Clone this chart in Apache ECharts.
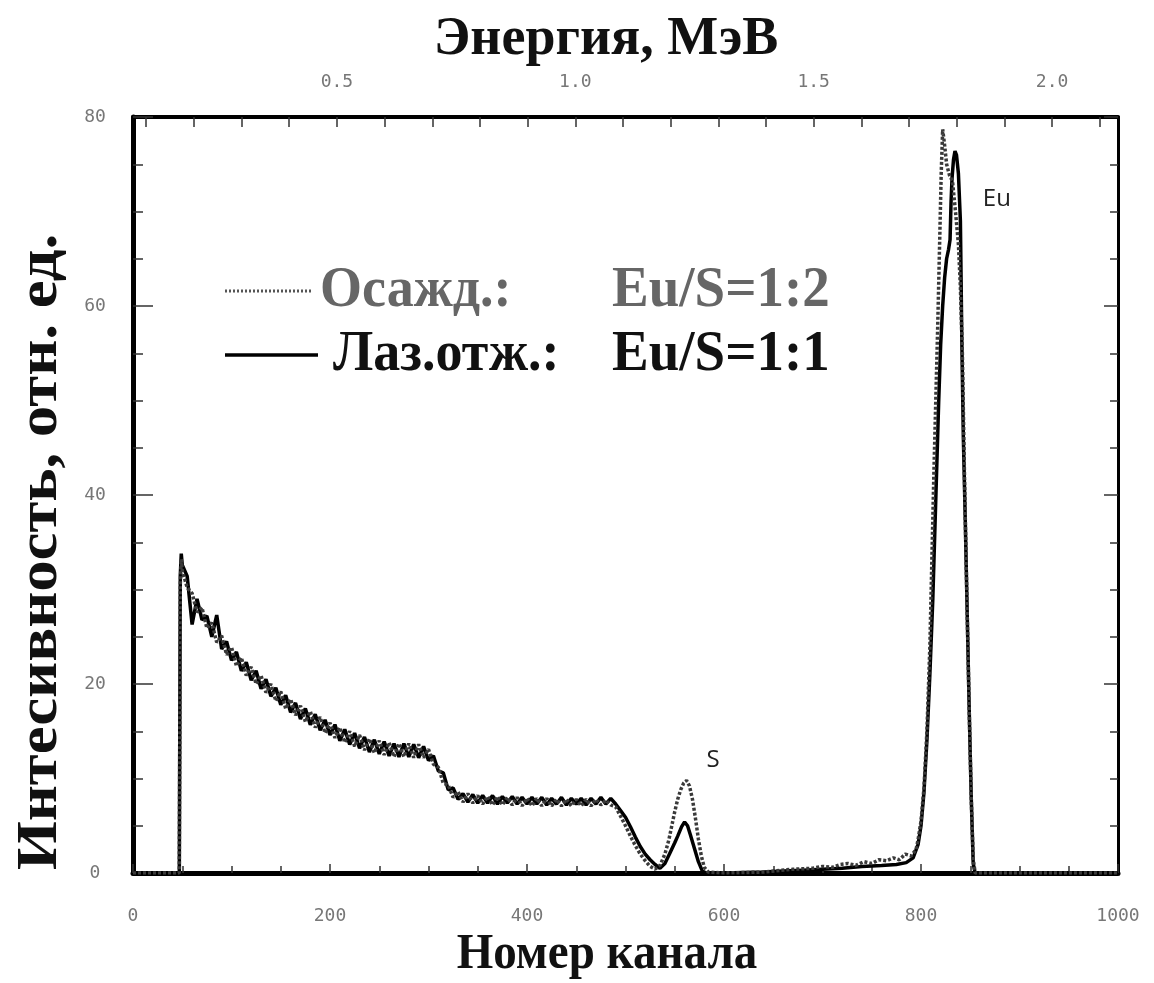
<!DOCTYPE html>
<html>
<head>
<meta charset="utf-8">
<script src="https://cdn.jsdelivr.net/npm/echarts@6/dist/echarts.min.js"></script>
<style>
html,body{margin:0;padding:0;background:#fff;}
#chart{width:1154px;height:983px;}
</style>
</head>
<body>
<div id="chart"></div>
<script>
// ---- Data ----
const solidName = 'Лаз.отж.: Eu/S=1:1';
const dottedName = 'Осажд.: Eu/S=1:2';

const solidCh = [0,47,48,49,50,
 55,60,65,70,75,80,85,90,95,100,105,110,115,120,125,130,135,140,145,150,155,160,165,170,175,180,185,190,195,200,205,210,215,220,225,230,235,240,245,250,255,260,265,270,275,280,285,290,295,300,
 305,310,315,320,325,330,335,340,345,350,355,360,365,370,375,380,385,390,395,400,405,410,415,420,425,430,435,440,445,450,455,460,465,470,475,480,485,490,
 495,500,505,510,515,520,525,530,535,
 540,545,550,
 553,557,560,563,566,570,574,578,582,
 600,640,660,680,700,720,740,760,
 775,785,792,797,800,803,806,809,812,814,816,818,820,822,824,826,828,
 829.5,830.5,831.5,833,834.5,836,838,840,841.5,843,845,847,849,851,853,855,1000];
const solidVal = [0,0,31.5,33.8,32.6,
 31.4,26.3,29.0,26.8,27.2,25.0,27.3,23.7,24.5,22.5,
 23.4,21.4,22.3,20.4,21.4,19.5,20.5,18.7,19.6,17.8,
 18.8,17.0,18.0,16.3,17.4,15.7,16.8,15.1,16.2,14.6,
 15.7,14.0,15.2,13.6,14.8,13.2,14.4,12.8,14.1,12.6,
 13.9,12.4,13.7,12.3,13.7,12.3,13.6,12.2,13.4,11.9,
 12.4,10.8,10.6,8.8,9.0,7.8,8.4,7.5,8.3,7.4,
 8.2,7.4,8.2,7.3,8.1,7.4,8.1,7.3,8.0,7.3,
 8.0,7.3,8.0,7.2,7.9,7.3,8.0,7.2,7.9,7.3,
 7.9,7.2,7.9,7.3,8.0,7.3,7.9,7.3,
 6.6,5.9,4.9,3.8,2.8,2.0,1.4,0.9,0.5,
 1.0,2.1,3.2,
 3.9,4.9,5.4,5.0,4.0,2.6,1.2,0.2,0,
 0,0.1,0.2,0.3,0.4,0.5,0.7,0.8,
 0.9,1.1,1.6,3.0,5.0,8.5,14.0,21.0,29.0,36.0,43.0,50.0,56.0,60.0,63.0,65.0,66.0,
 67.0,71.0,73.5,75.5,76.4,76.0,74.0,69.0,56.0,46.0,37.0,27.0,17.0,8.0,1.0,0,0];

const dottedCh = [0,47,48,49,50,
 55,60,65,70,75,80,85,90,95,100,105,110,115,120,125,130,135,140,145,150,155,160,165,170,175,180,185,190,195,200,205,210,215,220,225,230,235,240,245,250,255,260,265,270,275,280,285,290,295,300,
 305,310,315,320,325,330,335,340,345,350,355,360,365,370,375,380,385,390,395,400,405,410,415,420,425,430,435,440,445,450,455,460,465,470,475,480,485,490,
 495,500,505,510,515,520,525,530,
 535,540,544,547,550,553,556,559,562,565,568,571,574,577,580,584,
 600,640,670,690,700,710,718,726,734,742,750,757,765,772,778,784,790,795,
 797,800,803,806,809,811,813,815,817,819,820.5,822,824,826,829,832,835,838,840,842,844.5,847,849,851,853,855,1000];
const dottedVal = [0,0,30.5,33.2,32.0,
 30.2,29.6,27.6,28.1,25.9,26.5,24.4,25.1,23.1,23.9,
 21.9,22.8,20.9,21.8,20.0,20.9,19.1,20.0,18.2,19.2,
 17.4,18.4,16.7,17.7,16.0,17.1,15.4,16.5,14.8,15.9,
 14.3,15.4,13.8,15.0,13.4,14.6,13.0,14.2,12.7,14.0,
 12.5,13.8,12.3,13.7,12.3,13.7,12.2,13.6,12.2,13.1,
 11.5,11.2,9.5,9.3,8.0,8.6,7.5,8.4,7.4,8.2,
 7.3,8.1,7.2,8.1,7.2,8.0,7.2,8.0,7.1,7.9,
 7.1,7.9,7.1,7.9,7.1,7.8,7.1,7.8,7.1,7.8,
 7.1,7.8,7.1,7.8,7.2,7.7,7.2,7.0,
 6.0,5.0,3.9,2.9,2.0,1.3,0.7,0.4,
 0.8,2.0,3.5,5.0,6.5,7.8,8.8,9.5,9.8,9.2,7.8,5.8,3.6,1.8,0.6,0.1,
 0,0.1,0.4,0.5,0.7,0.6,0.9,1.0,0.8,1.2,1.0,1.4,1.3,1.6,1.4,2.0,1.8,2.5,
 3.5,5.5,9.0,15.0,24.0,33.0,42.0,50.0,58.0,67.0,74.0,78.7,77.0,75.0,73.8,73.2,70.0,66.5,62.0,55.0,40.0,27.0,17.0,8.0,1.5,0,0];

// axis ticks / labels
const energyLabels = [0.5,1.0,1.5,2.0];
const energyMinorTicks = [0.1,0.2,0.3,0.4,0.5,0.6,0.7,0.8,0.9,1.0,1.1,1.2,1.3,1.4,1.5,1.6,1.7,1.8,1.9,2.0,2.1];
// energy calibration (MeV)
const energyAtCh0 = 0.0723;
const energyPerCh = 0.002066;

// peak annotations [label, channel, intensity]
const annotS = ['S', 589, 11.9];
const annotEu = ['Eu', 877, 71.3];

// ---- Build ----
const pairs = (xs, ys) => xs.map((x, i) => [x, ys[i]]);
const chart = echarts.init(document.getElementById('chart'), null, {renderer: 'canvas'});

const serif = '"Liberation Serif", "Times New Roman", serif';
const tickFont = {fontFamily: '"DejaVu Sans Mono", monospace', fontSize: 18, color: '#777'};

function sText(text, x, y, size, color, align, sy) {
  return {
    type: 'text', x: x, y: y, scaleY: sy, originX: 0, originY: 0,
    style: {text: text, font: 'bold ' + size + 'px ' + serif, fill: color, align: align, verticalAlign: 'middle'}
  };
}

const option = {
  backgroundColor: '#fff',
  animation: false,
  grid: {left: 133, right: 36, top: 117, bottom: 110, containLabel: false},
  xAxis: [{
    type: 'value', position: 'bottom', min: 0, max: 1000, interval: 200,
    axisLine: {show: true, onZero: false, lineStyle: {color: '#000', width: 5}},
    axisTick: {show: true, inside: true, length: 9, lineStyle: {color: '#333', width: 1.5}},
    minorTick: {show: true, splitNumber: 4, length: 7, lineStyle: {color: '#333', width: 1.5}},
    axisLabel: Object.assign({margin: 34, formatter: v => String(v)}, tickFont),
    splitLine: {show: false}
  }, {
    type: 'value', position: 'top', min: energyAtCh0, max: energyAtCh0 + energyPerCh * 1000,
    axisLine: {show: true, onZero: false, lineStyle: {color: '#000', width: 4}},
    axisTick: {show: true, inside: true, length: 10, customValues: energyMinorTicks, lineStyle: {color: '#333', width: 1.5}},
    axisLabel: Object.assign({margin: 26, customValues: energyLabels, formatter: v => v.toFixed(1)}, tickFont),
    splitLine: {show: false}
  }],
  yAxis: [{
    type: 'value', position: 'left', min: 0, max: 80, interval: 20,
    axisLine: {show: true, onZero: false, lineStyle: {color: '#000', width: 5}},
    axisTick: {show: true, inside: true, length: 20, lineStyle: {color: '#333', width: 1.5}},
    minorTick: {show: true, splitNumber: 4, length: 10, lineStyle: {color: '#333', width: 1.5}},
    axisLabel: Object.assign({margin: 38, align: 'center', formatter: v => String(v)}, tickFont),
    splitLine: {show: false}
  }, {
    type: 'value', position: 'right', min: 0, max: 80, interval: 20,
    axisLine: {show: true, onZero: false, lineStyle: {color: '#000', width: 3}},
    axisTick: {show: true, inside: true, length: 14, lineStyle: {color: '#333', width: 1.5}},
    minorTick: {show: true, splitNumber: 4, length: 8, lineStyle: {color: '#333', width: 1.5}},
    axisLabel: {show: false},
    splitLine: {show: false}
  }],
  series: [{
    name: solidName, type: 'line', xAxisIndex: 0, yAxisIndex: 0,
    data: pairs(solidCh, solidVal), showSymbol: false, symbol: 'none',
    lineStyle: {color: '#000', width: 3.5}, z: 3,
    markPoint: {
      symbol: 'circle', symbolSize: 0,
      label: {show: true, position: 'inside', fontFamily: '"Open Sans", sans-serif', fontSize: 24, color: '#222', formatter: p => p.name},
      data: [
        {name: annotS[0], coord: [annotS[1], annotS[2]]},
        {name: annotEu[0], coord: [annotEu[1], annotEu[2]]}
      ]
    }
  }, {
    name: dottedName, type: 'line', xAxisIndex: 0, yAxisIndex: 0,
    data: pairs(dottedCh, dottedVal), showSymbol: false, symbol: 'none',
    lineStyle: {color: '#3a3a3a', width: 3.5, type: [3, 2], cap: 'butt'}, z: 4
  }],
  graphic: [
    sText('Энергия, МэВ', 606, 40, 54, '#111', 'center', 1.0),
    sText('Номер канала', 607, 955, 47, '#111', 'center', 1.08),
    {
      type: 'text', x: 42, y: 552, rotation: Math.PI / 2, scaleX: 1.12, originX: 0, originY: 0,
      style: {text: 'Интесивность, отн. ед.', font: 'bold 56px ' + serif, fill: '#111', align: 'center', verticalAlign: 'middle'}
    },
    // legend
    {type: 'line', shape: {x1: 225, y1: 291, x2: 312, y2: 291}, style: {stroke: '#555', lineWidth: 3, lineDash: [2, 2]}},
    {type: 'line', shape: {x1: 225, y1: 355, x2: 318, y2: 355}, style: {stroke: '#000', lineWidth: 3.5}},
    sText('Осажд.:', 320, 291, 54, '#666', 'left', 1.05),
    sText('Eu/S=1:2', 612, 291, 55, '#666', 'left', 1.05),
    sText('Лаз.отж.:', 333, 355, 54, '#111', 'left', 1.05),
    sText('Eu/S=1:1', 612, 355, 55, '#111', 'left', 1.05)
  ]
};
chart.setOption(option);
</script>
</body>
</html>
